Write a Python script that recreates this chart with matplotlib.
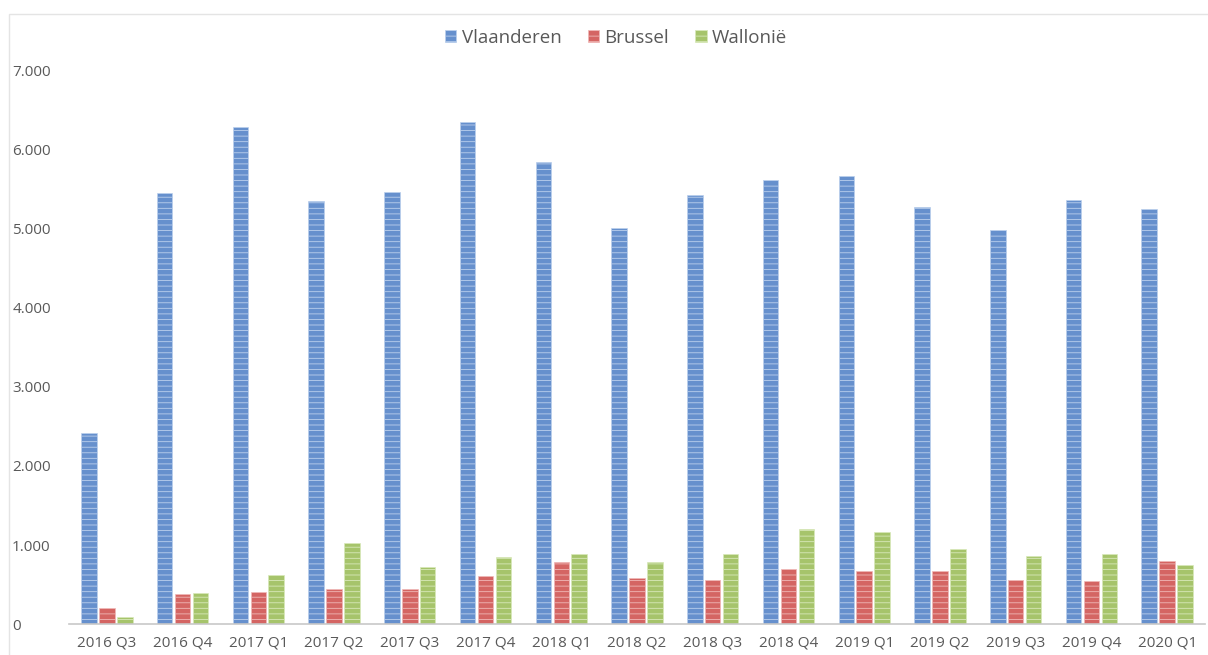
import matplotlib
matplotlib.use("Agg")
import matplotlib.pyplot as plt
from matplotlib.patches import Rectangle
from matplotlib.ticker import FuncFormatter
import numpy as np

plt.rcParams['font.family'] = ['Open Sans', 'DejaVu Sans']
plt.rcParams['hatch.linewidth'] = 0.6

# data
kwartalen = ['2016 Q3', '2016 Q4', '2017 Q1', '2017 Q2', '2017 Q3', '2017 Q4', '2018 Q1',
             '2018 Q2', '2018 Q3', '2018 Q4', '2019 Q1', '2019 Q2', '2019 Q3', '2019 Q4',
             '2020 Q1']
vlaanderen = [2411, 5453, 6283, 5348, 5465, 6342, 5845, 5010, 5420, 5617, 5664, 5272,
              4985, 5360, 5243]
brussel = [211, 379, 409, 451, 451, 607, 788, 590, 560, 695, 678, 678, 560, 548, 801]
wallonie = [88, 392, 619, 1024, 725, 847, 893, 784, 881, 1197, 1167, 952, 860, 893, 754]

# name, values, fill colour, light stripe colour
reeksen = [('Vlaanderen', vlaanderen, '#6690cd', '#bcd0ed'),
           ('Brussel', brussel, '#d46563', '#f0b9b8'),
           ('Wallonië', wallonie, '#a6c46b', '#d9e9bb')]

fig = plt.figure(figsize=(12.08, 6.55), dpi=100)
ax = fig.add_axes([69 / 1208, 0.047, 1 - 72 / 1208, 0.846])

# light frame around the chart area
fig.patches.append(Rectangle((9 / 1208, -0.01), 1.1, 1 - 14 / 655 + 0.01,
                             transform=fig.transFigure, fill=False,
                             edgecolor='#e4e4e4', linewidth=1))

x = np.arange(len(kwartalen))
breedte = 0.205
stap = 0.236
for i, (naam, waarden, kleur, streep) in enumerate(reeksen):
    ax.bar(x + (i - 1) * stap, waarden, breedte, color=kleur, label=naam,
           edgecolor=streep, linewidth=0.5, hatch='---')

ax.set_xlim(-0.5, len(kwartalen) - 0.5)
ax.set_ylim(0, 7000)
ax.set_yticks(range(0, 7001, 1000))
ax.yaxis.set_major_formatter(FuncFormatter(lambda v, p: f'{int(v):,}'.replace(',', '.')))
ax.set_xticks(x)
ax.set_xticklabels(kwartalen)
ax.tick_params(axis='both', length=0, labelsize=11, colors='#595959')
ax.tick_params(axis='x', pad=8)
for lab in ax.get_yticklabels():
    lab.set_horizontalalignment('left')
    lab.set_x(-(69 - 17) / 1136)

for s in ['top', 'right', 'left']:
    ax.spines[s].set_visible(False)
ax.spines['bottom'].set_color('#c8c8c8')
ax.spines['bottom'].set_linewidth(1.2)

leg = fig.legend(loc='center', bbox_to_anchor=(0.51, 1 - 38 / 655), ncol=3, frameon=False,
                 fontsize=13.5, handlelength=0.6, handleheight=0.6, handletextpad=0.3,
                 columnspacing=1.4)
for t in leg.get_texts():
    t.set_color('#595959')

fig.savefig('out.png', dpi=100, facecolor='white')
